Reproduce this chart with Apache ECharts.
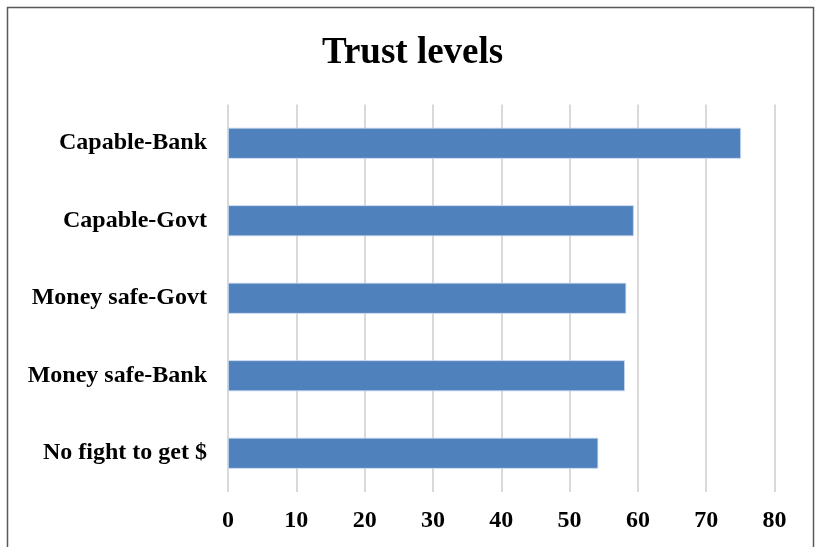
<!DOCTYPE html>
<html>
<head>
<meta charset="utf-8">
<script src="https://cdn.jsdelivr.net/npm/echarts@6/dist/echarts.min.js"></script>
<style>
  html, body { margin: 0; padding: 0; background: #fff; }
  #chart { width: 816px; height: 547px; }
</style>
</head>
<body>
<div id="chart"></div>
<script>
// Survey items, bottom to top as they appear on the category axis
const categories = ['No fight to get $', 'Money safe-Bank', 'Money safe-Govt', 'Capable-Govt', 'Capable-Bank'];
const trustValues = [54.2, 58.1, 58.3, 59.4, 75.1];
const xTicks = [0, 10, 20, 30, 40, 50, 60, 70, 80];

const serif = '"Liberation Serif", "Times New Roman", serif';
const chart = echarts.init(document.getElementById('chart'), null, { renderer: 'canvas' });

chart.setOption({
  backgroundColor: '#ffffff',
  animation: false,
  title: {
    text: 'Trust levels',
    left: 317,
    top: 30,
    textStyle: { fontFamily: serif, fontWeight: 'bold', fontSize: 37, color: '#000' }
  },
  graphic: [{
    type: 'rect',
    shape: { x: 7.5, y: 7.5, width: 806, height: 560 },
    style: { fill: 'none', stroke: '#595959', lineWidth: 1.5 },
    silent: true
  }],
  grid: { left: 228, right: 41.5, top: 104.5, bottom: 55, containLabel: false },
  xAxis: {
    type: 'value',
    min: xTicks[0],
    max: xTicks[xTicks.length - 1],
    interval: 10,
    axisLine: { show: false },
    axisTick: { show: false },
    splitLine: { show: true, lineStyle: { color: '#d9d9d9', width: 2 } },
    axisLabel: {
      margin: 17,
      fontFamily: serif, fontWeight: 'bold', fontSize: 24, color: '#000'
    }
  },
  yAxis: {
    type: 'category',
    data: categories,
    axisLine: { show: false },
    axisTick: { show: false },
    axisLabel: {
      margin: 21,
      fontFamily: serif, fontWeight: 'bold', fontSize: 24, color: '#000'
    }
  },
  series: [{
    type: 'bar',
    data: trustValues,
    barWidth: '40%',
    itemStyle: { color: '#4f81bd', borderColor: '#c9d8ee', borderWidth: 0.8 }
  }]
});
</script>
</body>
</html>
